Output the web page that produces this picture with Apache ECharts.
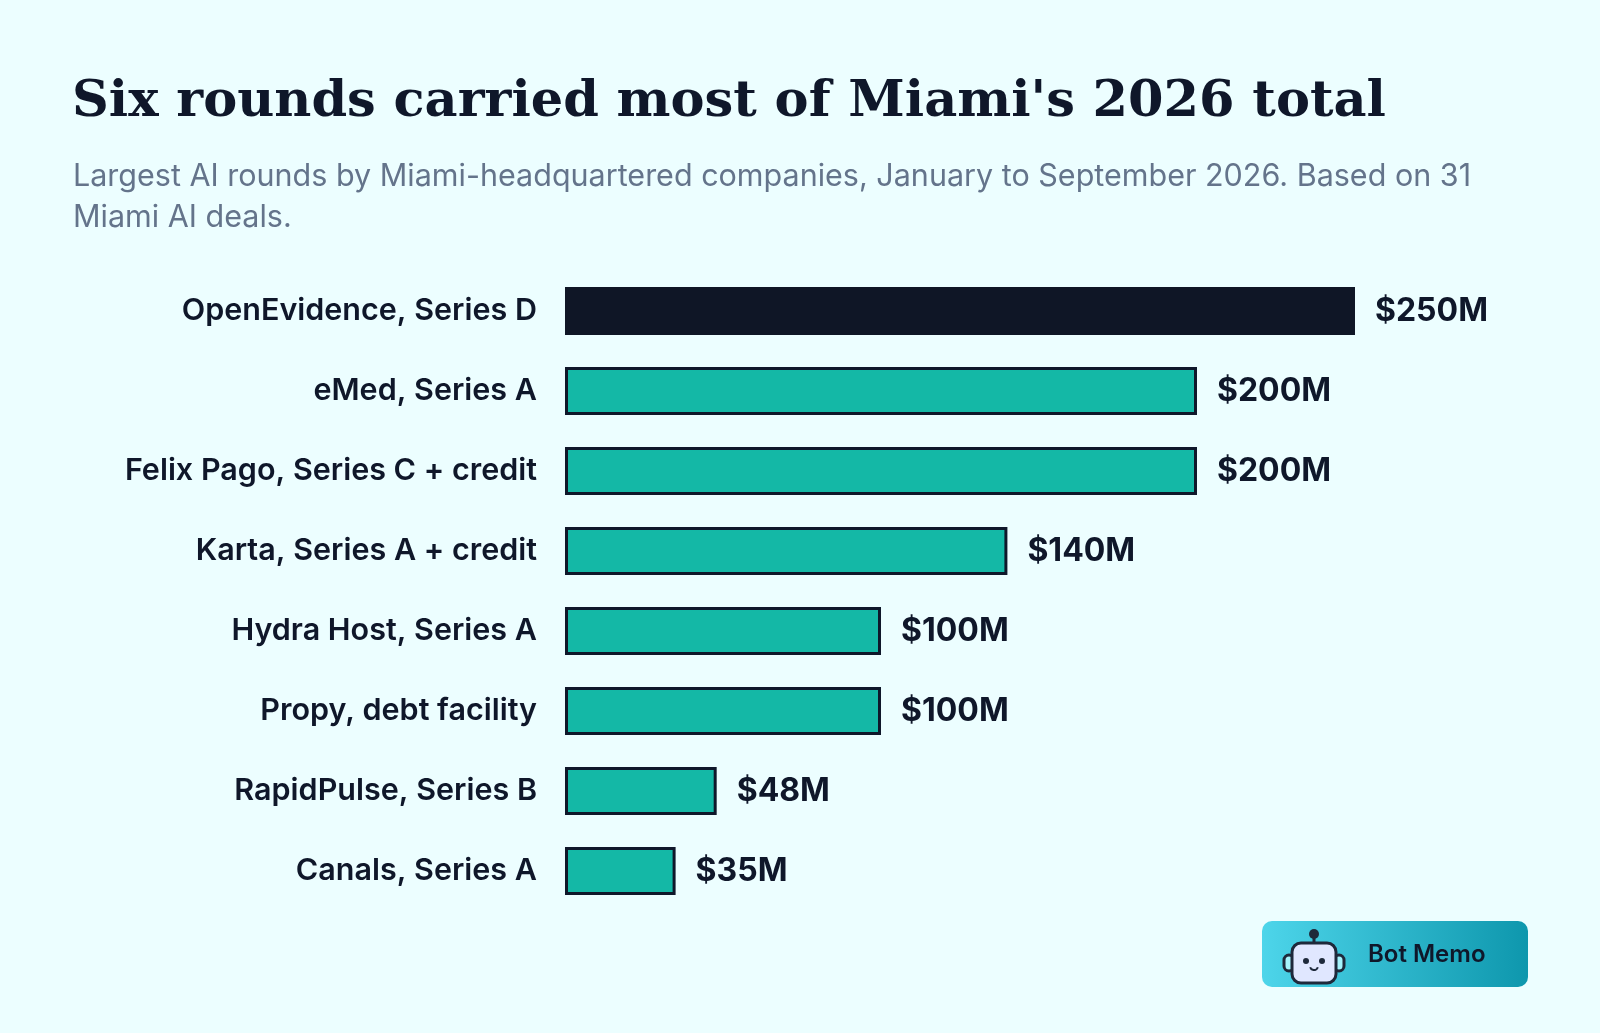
<!DOCTYPE html>
<html><head><meta charset="utf-8">
<script src="https://cdn.jsdelivr.net/npm/echarts@6/dist/echarts.min.js"></script>
<style>html,body{margin:0;background:#ecfeff}#c{width:1600px;height:1033px}</style>
</head><body><div id="c"></div>
<script>
const categories = ["OpenEvidence, Series D","eMed, Series A","Felix Pago, Series C + credit","Karta, Series A + credit","Hydra Host, Series A","Propy, debt facility","RapidPulse, Series B","Canals, Series A"];
const values = [250,200,200,140,100,100,48,35];
const valueLabels = ["$250M","$200M","$200M","$140M","$100M","$100M","$48M","$35M"];

const chart = echarts.init(document.getElementById('c'));
chart.setOption({
  backgroundColor:'#ecfeff',
  title:[{text:"Six rounds carried most of Miami's 2026 total",left:67,top:72,
    textStyle:{fontFamily:'DejaVu Serif',fontWeight:'bold',fontSize:51,color:'#0f172a'}},
    {text:"Largest AI rounds by Miami-headquartered companies, January to September 2026. Based on 31\nMiami AI deals.",left:68,top:151,
    textStyle:{fontFamily:'Inter',fontSize:30.5,fontWeight:'normal',color:'#64748b',lineHeight:41}}],
  grid:{left:565,top:271,width:790,height:640},
  xAxis:{type:'value',min:0,max:250,show:false},
  yAxis:{type:'category',data:categories,inverse:true,
    axisLine:{show:false},axisTick:{show:false},
    axisLabel:{margin:28,fontFamily:'Inter',fontSize:30.5,fontWeight:600,color:'#0f172a'}},
  series:[{type:'bar',barWidth:48,
    data:values.map((v,i)=>({value:v,itemStyle:i===0?{color:'#0f1626',borderColor:'#0f1626',borderWidth:2}:{color:'#14b8a6',borderColor:'#0f172a',borderWidth:3}})),
    label:{show:true,position:'right',distance:20,fontFamily:'Inter',fontSize:32,fontWeight:'bold',color:'#0f172a',
      formatter:p=>valueLabels[p.dataIndex]}}],
  graphic:[{type:'group',left:1262,top:921,children:[
    {type:'rect',shape:{x:0,y:0,width:266,height:66,r:10},style:{fill:new echarts.graphic.LinearGradient(0,0,1,0,[{offset:0,color:'#4dd5ea'},{offset:1,color:'#0e97ad'}])}},
    {type:'circle',shape:{cx:52,cy:13,r:5},style:{fill:'#1e293b'}},
    {type:'line',shape:{x1:52,y1:13,x2:52,y2:22},style:{stroke:'#1e293b',lineWidth:3}},
    {type:'rect',shape:{x:22,y:34,width:10,height:16,r:5},style:{fill:'#a5f3fc',stroke:'#1e293b',lineWidth:3}},
    {type:'rect',shape:{x:72,y:34,width:10,height:16,r:5},style:{fill:'#a5f3fc',stroke:'#1e293b',lineWidth:3}},
    {type:'rect',shape:{x:30,y:22,width:44,height:40,r:9},style:{fill:'#e0e7ff',stroke:'#1e293b',lineWidth:3}},
    {type:'circle',shape:{cx:44,cy:40,r:3},style:{fill:'#1e293b'}},
    {type:'circle',shape:{cx:60,cy:40,r:3},style:{fill:'#1e293b'}},
    {type:'arc',shape:{cx:52,cy:45,r:4,startAngle:0.3,endAngle:Math.PI-0.3},style:{stroke:'#1e293b',lineWidth:2,fill:null}},
    {type:'text',left:106,top:22,style:{text:'Bot Memo',font:'600 24px Inter',fill:'#0f172a'}}
  ]}]
});
</script></body></html>
